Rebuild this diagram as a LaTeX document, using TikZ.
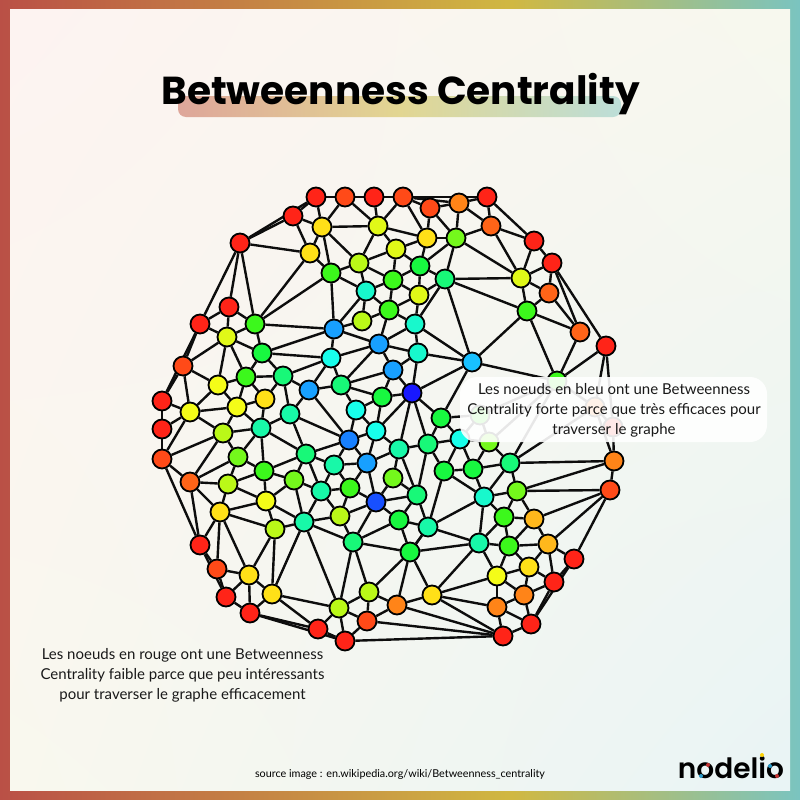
\documentclass[tikz,border=0pt]{standalone}
\usepackage{fontspec}
\setmainfont{Lato}
\newfontfamily\titlefont{Poppins}[UprightFont=* Bold]
\newfontfamily\logofont{Poppins}[UprightFont=* SemiBold]
\usetikzlibrary{positioning,shadings}
\definecolor{redA}{HTML}{FF2418}
\definecolor{redB}{HTML}{FF4A18}
\definecolor{oraA}{HTML}{FF6418}
\definecolor{oraB}{HTML}{FF8418}
\definecolor{ambA}{HTML}{FFB81C}
\definecolor{golA}{HTML}{FFE018}
\definecolor{yelA}{HTML}{F4FC18}
\definecolor{limA}{HTML}{E0F818}
\definecolor{limB}{HTML}{BAF818}
\definecolor{limC}{HTML}{74F81C}
\definecolor{greA}{HTML}{3CF81C}
\definecolor{greB}{HTML}{18F840}
\definecolor{sprA}{HTML}{18F878}
\definecolor{sprB}{HTML}{18F8A8}
\definecolor{turA}{HTML}{18F8CC}
\definecolor{cyaA}{HTML}{18FFEC}
\definecolor{skyA}{HTML}{18C0FF}
\definecolor{skyB}{HTML}{18A0FF}
\definecolor{bluA}{HTML}{1880FF}
\definecolor{bluB}{HTML}{1850FF}
\definecolor{bluC}{HTML}{1818FF}
\definecolor{frameL}{RGB}{186,80,70}
\definecolor{frameM}{RGB}{208,184,66}
\definecolor{frameR}{RGB}{122,196,192}
\definecolor{bandL}{RGB}{222,166,154}
\definecolor{bandM}{RGB}{226,214,146}
\definecolor{bandR}{RGB}{188,222,216}
\definecolor{paperUL}{RGB}{253,243,241}
\definecolor{paperUR}{RGB}{247,248,238}
\definecolor{paperLL}{RGB}{249,248,238}
\definecolor{paperLR}{RGB}{233,244,245}
\pgfdeclarehorizontalshading{framefade}{100bp}{
	color(0bp)=(frameL);
	color(25bp)=(frameL);
	color(57bp)=(frameM);
	color(75bp)=(frameR);
	color(100bp)=(frameR)}
\pgfdeclarehorizontalshading{bandfade}{100bp}{
	color(0bp)=(bandL);
	color(25bp)=(bandL);
	color(50bp)=(bandM);
	color(75bp)=(bandR);
	color(100bp)=(bandR)}
\pgfdeclarelayer{links}
\pgfsetlayers{links,main}

\begin{document}
\begin{tikzpicture}
			[x=1pt, y=-1pt,
			hub/.style={circle, draw=black, line width=1.8pt, minimum size=19pt, inner sep=0pt},
			link/.style={line width=2.4pt, black!95},
			note/.style={align=center, font=\fontsize{15}{20}\selectfont, text=black!90}]
			\useasboundingbox (0,0) rectangle (800,800);

			\begin{pgfonlayer}{links}
			% frame and title band
			\shade[shading=framefade] (0,0) rectangle (800,800);
			\shade[upper left=paperUL, upper right=paperUR, lower left=paperLL, lower right=paperLR]
				(10,10) rectangle (790,790);
			\shade[shading=bandfade, rounded corners=8pt] (178,96) rectangle (621,117);
			\end{pgfonlayer}

			\foreach \id/\px/\py/\tone in {
				1/316/197/redA, 2/345/197/redB, 3/374/197/redA, 4/403/197/redB, 5/430/208/redB,
				6/459/203/oraB, 7/487/197/redA, 8/491/226/oraA, 9/534/241/redA, 10/552/263/redA,
				11/549/293/oraA, 12/580/332/oraA, 13/606/346/redA, 14/521/278/limA, 15/527/311/greA,
				16/456/238/limC, 17/427/238/golA, 18/396/249/limA, 19/378/226/limA, 20/322/227/golA,
				21/293/216/redA, 22/240/243/redA, 23/310/253/golA, 24/359/263/limB, 25/331/273/greA,
				26/420/266/greB, 27/393/280/greA, 28/445/279/sprA, 29/419/295/limA, 30/389/310/greA,
				31/366/291/turA, 32/362/321/limB, 33/415/324/turA, 34/418/353/turA, 35/472/362/skyA,
				36/334/329/skyB, 37/379/344/skyB, 38/393/370/skyB, 39/412/393/bluC, 40/382/397/greB,
				41/255/324/greA, 42/229/307/redA, 43/200/324/redA, 44/227/337/limA, 45/183/366/redB,
				46/262/353/greB, 47/331/358/cyaA, 48/218/385/yelA, 49/246/377/greA, 50/283/376/sprA,
				51/309/390/skyB, 52/341/385/sprA, 53/356/410/cyaA, 54/162/401/redA, 55/190/412/yelA,
				56/237/407/yelA, 57/265/399/golA, 58/290/414/sprB, 59/162/429/redA, 60/162/459/redB,
				61/223/433/limB, 62/261/428/sprB, 63/238/457/limC, 64/306/454/sprA, 65/349/440/bluA,
				66/376/431/cyaA, 67/367/463/skyB, 68/334/465/sprB, 69/264/471/greA, 70/294/480/limC,
				71/228/484/limB, 72/190/482/oraA, 73/350/488/greA, 74/321/491/sprB, 75/393/478/limC,
				76/376/502/bluB, 77/266/501/yelA, 78/220/512/golA, 79/340/516/limB, 80/304/522/sprB,
				81/275/529/limB, 82/353/542/sprA, 83/200/545/redA, 84/217/569/redB, 85/249/575/golA,
				86/226/597/redA, 87/272/594/golA, 88/250/613/redA, 89/339/608/limB, 90/369/592/limB,
				91/367/621/redB, 92/318/629/redA, 93/345/641/redA, 94/397/605/oraB, 95/432/595/golA,
				96/410/552/greB, 97/399/520/greB, 98/428/527/sprB, 99/417/495/sprA, 100/399/449/sprB,
				101/428/444/sprA, 102/441/418/greB, 103/460/439/cyaA, 104/489/442/limC, 105/510/463/sprA,
				106/473/469/greB, 107/444/471/greB, 108/484/497/turA, 109/517/491/limC, 110/504/517/greA,
				111/534/519/ambA, 112/479/543/sprB, 113/509/546/greA, 114/548/544/ambA, 115/529/567/golA,
				116/497/576/yelA, 117/574/559/redA, 118/554/582/redA, 119/524/595/oraB, 120/497/607/oraB,
				121/531/624/redA, 122/503/636/redA, 123/614/461/oraB, 124/610/490/redB, 125/557/381/greA,
				126/480/415/greA, 127/595/407/oraB, 128/613/427/redA}
				\node[hub, fill=\tone] (n\id) at (\px,\py) {};

			\begin{pgfonlayer}{links}
			\foreach \a/\b in {
				1/2, 2/3, 3/4, 1/21, 1/20, 2/20, 3/19, 2/19, 21/20, 21/23, 21/22, 1/22, 20/19, 20/23, 20/25, 20/24,
				23/22, 23/25, 23/41, 25/41, 25/24, 25/36, 25/31, 24/19, 24/18, 24/31, 24/27, 31/27, 31/30, 31/32, 31/36,
				18/27, 18/26, 18/17, 18/19, 27/26, 27/30, 27/29, 26/29, 26/28, 26/17, 26/16, 29/28, 29/30, 29/33,
				30/32, 30/33, 30/37, 28/33, 32/36, 36/37, 36/47, 36/41, 36/46, 33/37, 33/34, 33/35, 34/37, 34/35, 34/39, 34/38,
				37/47, 37/38, 37/52, 38/52, 38/39, 38/40, 39/40, 39/35, 39/102, 39/66, 39/100, 39/101,
				47/46, 47/50, 47/51, 47/52, 52/51, 52/40, 52/53, 51/50, 51/58, 51/65, 53/40, 53/65, 53/66, 40/66,
				66/65, 66/67, 66/100, 65/58, 65/64, 65/68, 65/67, 100/67, 100/101, 100/75, 100/99,
				101/102, 101/107, 101/99, 101/103, 107/98, 99/76, 99/97, 99/98, 99/75, 75/76, 67/73, 67/76, 67/68,
				68/73, 68/74, 68/64, 73/74, 73/76, 73/79, 64/74, 64/70, 74/70, 74/79, 74/80, 79/76, 79/82, 79/80,
				76/97, 76/82, 97/82, 97/96, 97/98, 98/96, 82/96, 82/80,
				59/54, 59/60, 59/55, 60/55, 54/55, 54/45, 43/54, 55/56, 55/61, 55/48, 45/48, 45/55, 45/44, 45/43,
				43/42, 43/44, 43/22, 42/22, 42/44, 42/41, 22/41, 44/41, 44/46, 44/48, 44/49, 41/46, 46/49, 46/50,
				49/48, 49/50, 49/56, 49/57, 48/56, 50/57, 50/58, 56/57, 56/61, 56/62, 57/62, 58/62, 58/64,
				62/61, 62/63, 62/69, 62/64, 61/60, 61/63, 61/72, 63/72, 63/69, 63/71, 60/72, 60/83,
				69/64, 69/70, 69/71, 69/77, 70/77, 70/80, 71/72, 71/77, 71/78, 72/78, 72/83, 77/78, 77/81, 77/80,
				78/81, 78/83, 78/84, 78/85, 81/80, 81/85, 81/87, 80/87, 80/89,
				83/84, 83/86, 84/86, 84/85, 85/86, 85/87, 85/88, 86/88, 87/88, 87/89, 87/92, 88/92, 88/93,
				89/92, 89/93, 89/91, 89/90, 89/82, 90/82, 90/94, 90/91, 90/96, 92/93, 91/93, 91/94, 91/122, 93/122,
				94/96, 94/95, 94/122, 95/96, 95/122, 95/112, 95/116, 95/120, 96/112, 96/98, 98/112, 98/108,
				102/103, 107/106, 107/108, 107/103, 106/108, 106/105, 106/103, 105/108, 105/109, 108/109, 108/110,
				108/112, 110/109, 110/111, 110/112, 110/113, 111/109, 111/113, 111/124, 111/114, 113/114, 113/112,
				113/115, 113/116, 112/116, 114/115, 114/118, 114/117, 114/124, 115/116, 115/118, 115/119,
				116/119, 116/120, 117/118, 117/124, 117/121, 118/119, 118/121, 119/120, 119/121, 120/121, 120/122, 121/122,
				4/19, 4/17, 4/7, 4/6, 4/5, 5/17, 5/16, 5/6, 6/7, 6/16, 6/8, 7/8, 7/9, 8/16, 8/9, 8/14,
				9/10, 9/14, 10/14, 10/11, 10/12, 10/13, 11/14, 11/15, 11/12, 12/15, 12/125, 13/125, 13/127, 13/128,
				14/16, 14/15, 14/28, 15/28, 15/35, 15/125, 16/17, 16/28, 17/19, 28/35, 35/125, 35/102, 102/126,
				125/126, 125/104, 125/105, 125/127, 126/103, 126/104, 104/103, 104/106, 104/105, 105/127,
				127/128, 127/123, 128/123, 105/123, 109/123, 109/124, 123/124}
				\draw[link] (n\a) -- (n\b);
			\end{pgfonlayer}

			\node[fill=white, fill opacity=0.9, rounded corners=17pt, minimum width=307pt, minimum height=65pt, inner sep=0pt] (bubble) at (613.5,409.5) {};
			\node[note] (bluetext) at (614,410) {Les noeuds en bleu ont une Betweenness\\Centrality forte parce que très efficaces pour\\traverser le graphe};
			\node[note] (redtext) at (182.5,675) {Les noeuds en rouge ont une Betweenness\\Centrality faible parce que peu intéressants\\pour traverser le graphe efficacement};

			\node (title) at (400.5,94) {\titlefont\fontsize{39}{44}\selectfont Betweenness Centrality};
			\node (source) at (400,774) {\fontsize{10.8}{12}\selectfont source image : en.wikipedia.org/wiki/Betweenness\_centrality};
			\node[anchor=base] (logo) at (731,778) {\logofont\fontsize{28}{30}\selectfont nodelio};
			% dots of the logo
			\fill[yellow!70!orange] (762,755) circle (2pt);
			\fill[red!70!black!80] (708,765) circle (2pt);
			\fill[cyan!60!teal] (701,776) circle (2pt);
			\fill[cyan!60!teal] (770,766) circle (2pt);
			\fill[red!70!black!80] (777,776) circle (2pt);
			\end{tikzpicture}
\end{document}
